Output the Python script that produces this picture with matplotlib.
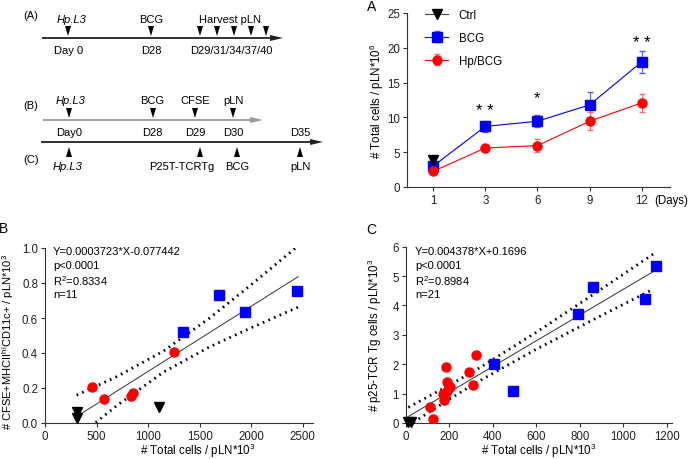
import numpy as np
import matplotlib
matplotlib.use("Agg")
import matplotlib.pyplot as plt

plt.rcParams.update({
    "font.family": ["Liberation Sans", "DejaVu Sans"],
    "font.size": 8,
    "axes.labelsize": 8.3,
    "xtick.labelsize": 8.3,
    "ytick.labelsize": 8.3,
    "mathtext.default": "regular",
    "axes.linewidth": 0.8,
    "xtick.major.size": 3,
    "ytick.major.size": 3,
    "xtick.major.width": 0.8,
    "ytick.major.width": 0.8,
})

# ---- data -------------------------------------------------------------
# panel A: total cells in pLN over time
days = ["1", "3", "6", "9", "12"]
bcg_mean = [3.0, 8.7, 9.45, 11.8, 18.0]
bcg_err = [0.5, 0.8, 0.9, 1.8, 1.6]
hp_mean = [2.25, 5.6, 5.95, 9.45, 12.1]
hp_err = [0.3, 0.5, 0.9, 1.3, 1.3]
ctrl_mean = [3.9]
stars = [(1, "* *", 11.0), (2, "*", 12.8), (4, "* *", 20.7)]

# panel B: CFSE+ DC vs total cells
b_bcg_x = [1334, 1686, 1944, 2440]
b_bcg_y = [0.518, 0.733, 0.632, 0.756]
b_hp_x = [452, 575, 830, 850, 1253]
b_hp_y = [0.204, 0.137, 0.156, 0.170, 0.404]
b_ctrl_x = [307, 307, 1108]
b_ctrl_y = [0.061, 0.029, 0.090]
b_fit_x = [307, 2455]
b_fit_y = [0.037, 0.836]
b_band_x = [307, 700, 1150, 1600, 2000, 2455]
b_band_hi = [0.159, 0.266, 0.411, 0.601, 0.790, 1.012]
b_band_lo = [-0.085, 0.101, 0.291, 0.436, 0.544, 0.662]
b_stats = ["Y=0.0003723*X-0.077442", "p<0.0001", "R$^2$=0.8334", "n=11"]

# panel C: p25-TCR Tg cells vs total cells
c_bcg_x = [1151, 862, 1100, 794, 407, 495]
c_bcg_y = [5.35, 4.62, 4.22, 3.72, 2.0, 1.1]
c_hp_x = [322, 184, 291, 188, 199, 311, 188, 173, 177, 112, 127, 181, 204]
c_hp_y = [2.33, 1.90, 1.74, 1.38, 1.27, 1.28, 1.10, 0.99, 0.78, 0.53, 0.15, 0.93, 1.21]
c_ctrl_x = [12, 25]
c_ctrl_y = [0.03, 0.05]
c_fit_x = [12, 1150]
c_fit_y = [0.222, 5.204]
c_band_x = [12, 200, 330, 600, 900, 1140]
c_band_hi = [0.532, 1.283, 1.834, 3.085, 4.560, 5.760]
c_band_lo = [-0.088, 0.807, 1.394, 2.509, 3.660, 4.560]
c_stats = ["Y=0.004378*X+0.1696", "p<0.0001", "R$^2$=0.8984", "n=21"]

BLUE = "#0000ff"
RED = "#ff0000"
W, H = 688, 460


def box(left, top, right, bottom):
    return [left / W, 1 - bottom / H, (right - left) / W, (bottom - top) / H]


def style(ax):
    for s in ["top", "right"]:
        ax.spines[s].set_visible(False)
    for s in ["left", "bottom"]:
        ax.spines[s].set_color("#333333")
    ax.tick_params(colors="#333333", labelcolor="#222222", pad=2)


fig = plt.figure(figsize=(W / 100, H / 100), dpi=100)

# overlay in pixel coordinates for timelines, panel letters and stats
ov = fig.add_axes([0, 0, 1, 1])
ov.set_xlim(0, W)
ov.set_ylim(H, 0)
ov.axis("off")
ov.set_zorder(10)
ov.patch.set_visible(False)


def arrow_line(y, x0, x1, color):
    ov.plot([x0, x1 - 12], [y, y], color=color, lw=1.3, solid_capstyle="butt")
    ov.fill([x1 - 13, x1, x1 - 13], [y - 3, y, y + 3], color=color, lw=0)


def tri(x, tip, down=True):
    h = 10 if down else -10
    ov.fill([x - 3, x + 3, x], [tip - h, tip - h, tip], color="black", lw=0)


# timeline (A)
ov.text(23, 16, "(A)", va="center")
arrow_line(39, 42, 283, "#222222")
for x in [68, 151, 200, 217, 234, 251, 266]:
    tri(x, 37)
ov.text(72, 20, "Hp.L3", ha="center", va="center", style="italic")
ov.text(151, 20, "BCG", ha="center", va="center")
ov.text(230, 20, "Harvest pLN", ha="center", va="center")
ov.text(69, 51, "Day 0", ha="center", va="center")
ov.text(151, 51, "D28", ha="center", va="center")
ov.text(231, 51, "D29/31/34/37/40", ha="center", va="center")

# timeline (B)
ov.text(23, 106, "(B)", va="center")
arrow_line(121, 43, 263, "#999999")
for x in [69, 153, 195, 233]:
    tri(x, 119)
for x, s in [(71, "Hp.L3"), (152, "BCG"), (195, "CFSE"), (233, "pLN")]:
    ov.text(x, 101, s, ha="center", va="center",
            style="italic" if s == "Hp.L3" else "normal")
for x, s in [(69, "Day0"), (152, "D28"), (195, "D29"), (233, "D30"), (300, "D35")]:
    ov.text(x, 133, s, ha="center", va="center")

# timeline (C)
ov.text(23, 160, "(C)", va="center")
arrow_line(143, 41, 323, "#222222")
for x in [69, 200, 237, 300]:
    tri(x, 148, down=False)
for x, s in [(68, "Hp.L3"), (182, "P25T-TCRTg"), (237, "BCG"), (300, "pLN")]:
    ov.text(x, 167, s, ha="center", va="center",
            style="italic" if s == "Hp.L3" else "normal")

# panel letters
ov.text(372, 7, "A", fontsize=10, va="center", ha="center")
ov.text(4, 229, "B", fontsize=10, va="center", ha="center")
ov.text(371, 230, "C", fontsize=10, va="center", ha="center")

# ---- panel A ------------------------------------------------------------
axa = fig.add_axes(box(407, 14, 670, 188))
style(axa)
xi = np.arange(len(days))
axa.errorbar(xi, bcg_mean, yerr=bcg_err, color=BLUE, marker="s", ms=6.5,
             lw=0.8, elinewidth=0.8, capsize=2.5, ecolor="#5a5aff", label="BCG", zorder=3)
axa.errorbar(xi, hp_mean, yerr=hp_err, color=RED, marker="o", ms=6.5,
             lw=0.8, elinewidth=0.8, capsize=2.5, ecolor="#ff6a6a", label="Hp/BCG", zorder=3)
axa.plot(xi[:1], ctrl_mean, color="black", marker="v", ms=6.5, lw=0.8, zorder=4)
ctrl_handle, = axa.plot([], [], color="#444444", marker="v", ms=6.5,
                        mfc="black", mec="black", lw=0.8)
hs, ls = axa.get_legend_handles_labels()
axa.legend([ctrl_handle] + hs, ["Ctrl"] + ls, loc="upper left",
           bbox_to_anchor=(0.07, 1.025), frameon=False, handlelength=2.0,
           handletextpad=0.9, labelspacing=0.95, borderaxespad=0, borderpad=0,
           fontsize=8.3)
for i, s, y in stars:
    axa.text(i, y, s, ha="center", va="center", fontsize=12)
axa.set_xlim(-0.5, 4.54)
axa.set_ylim(0, 25)
axa.set_xticks(xi)
axa.set_xticklabels(days)
axa.set_yticks([0, 5, 10, 15, 20, 25])
axa.set_ylabel("# Total cells / pLN*10$^6$")
axa.yaxis.set_label_coords(-0.08, 0.5)
axa.text(1.004, -0.072, "(Days)", transform=axa.transAxes, ha="center", va="center",
         fontsize=8.3)

# ---- panel B ------------------------------------------------------------
axb = fig.add_axes(box(45, 249, 313, 424))
style(axb)
axb.plot(b_fit_x, b_fit_y, color="#333333", lw=0.7)
axb.plot(b_band_x, b_band_hi, color="black", lw=2.0, ls=(0, (0.6, 1.6)))
axb.plot(b_band_x, b_band_lo, color="black", lw=2.0, ls=(0, (0.6, 1.6)))
axb.plot(b_bcg_x, b_bcg_y, "s", color=BLUE, ms=6.5, zorder=3)
axb.plot(b_hp_x, b_hp_y, "o", color=RED, ms=6.5, zorder=3)
axb.plot(b_ctrl_x, b_ctrl_y, "v", color="black", ms=6.5, zorder=3, clip_on=False)
axb.set_xlim(0, 2600)
axb.set_ylim(0, 1.0)
axb.set_xticks([0, 500, 1000, 1500, 2000, 2500])
axb.set_yticks([0.0, 0.2, 0.4, 0.6, 0.8, 1.0])
axb.set_yticklabels(["0.0", "0.2", "0.4", "0.6", "0.8", "1.0"])
axb.set_xlabel("# Total cells / pLN*10$^3$")
axb.xaxis.set_label_coords(0.57, -0.1)
axb.set_ylabel("# CFSE+MHCII$^{hi}$CD11c+ / pLN*10$^3$", fontsize=8)
axb.yaxis.set_label_coords(-0.11, 0.47)
for k, s in enumerate(b_stats):
    ov.text(53, 252 + 14.3 * k, s, va="center")

# ---- panel C ------------------------------------------------------------
axc = fig.add_axes(box(405.7, 247.7, 671.7, 424))
style(axc)
axc.plot(c_fit_x, c_fit_y, color="#333333", lw=0.7)
axc.plot(c_band_x, c_band_hi, color="black", lw=2.0, ls=(0, (0.6, 1.6)))
axc.plot(c_band_x, c_band_lo, color="black", lw=2.0, ls=(0, (0.6, 1.6)))
axc.plot(c_bcg_x, c_bcg_y, "s", color=BLUE, ms=6.5, zorder=3)
axc.plot(c_hp_x, c_hp_y, "o", color=RED, ms=6.5, zorder=3)
axc.plot(c_ctrl_x, c_ctrl_y, "v", color="black", ms=6.5, zorder=3, clip_on=False)
axc.set_xlim(0, 1223)
axc.set_ylim(0, 6)
axc.set_xticks([0, 200, 400, 600, 800, 1000, 1200])
axc.set_yticks([0, 1, 2, 3, 4, 5, 6])
axc.set_xlabel("# Total cells / pLN*10$^3$")
axc.xaxis.set_label_coords(0.5, -0.1)
axc.set_ylabel("# p25-TCR Tg cells / pLN*10$^3$")
axc.yaxis.set_label_coords(-0.082, 0.5)
for k, s in enumerate(c_stats):
    ov.text(415, 252 + 14.3 * k, s, va="center")

fig.savefig("out.png", dpi=100)
